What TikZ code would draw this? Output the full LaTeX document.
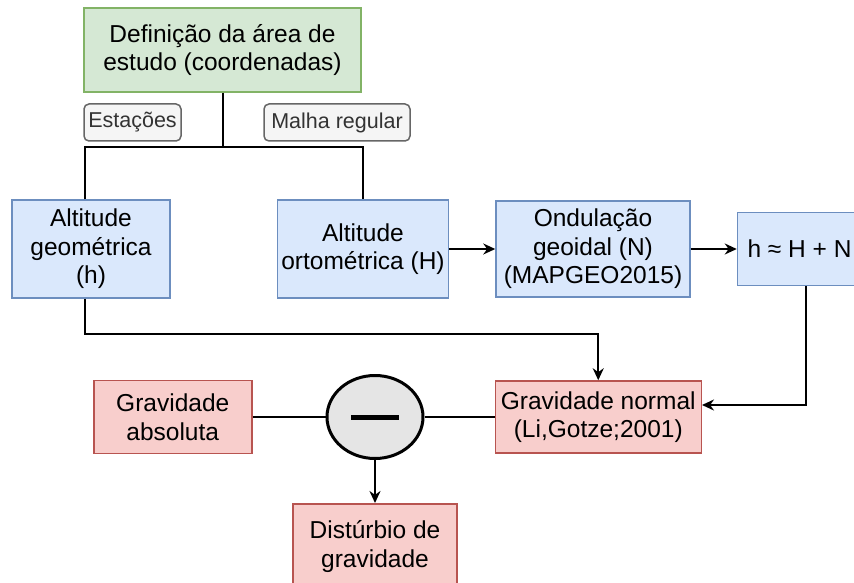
\documentclass[tikz,border=0pt]{standalone}
\usepackage{fontspec}
\setmainfont{Liberation Sans}
\usepackage{xcolor}
\usepackage{tikz}
\usetikzlibrary{positioning,shapes.geometric,arrows.meta}

\definecolor{greenfill}{HTML}{D5E8D4}
\definecolor{greenline}{HTML}{82B366}
\definecolor{bluefill}{HTML}{DAE8FC}
\definecolor{blueline}{HTML}{6C8EBF}
\definecolor{redfill}{HTML}{F8CECC}
\definecolor{redline}{HTML}{B85450}
\definecolor{tagfill}{HTML}{F5F5F5}
\definecolor{tagline}{HTML}{666666}

\begin{document}
\begin{tikzpicture}[
  x=1pt, y=-1pt,
  font=\fontsize{24.5}{28.5}\selectfont,
  box/.style={rectangle, align=center, inner sep=0pt, line width=1.5pt},
  greenbox/.style={box, draw=greenline, fill=greenfill},
  bluebox/.style={box, draw=blueline, fill=bluefill},
  redbox/.style={box, draw=redline, fill=redfill},
  tagbox/.style={rectangle, rounded corners=5pt, draw=tagline, fill=tagfill, line width=1.5pt,
                 text=black!80, inner sep=0pt, font=\fontsize{21.5}{25}\selectfont},
  minusnode/.style={ellipse, draw=black, fill=black!10, line width=3pt, inner sep=0pt,
                    minimum width=96pt, minimum height=83pt},
  link/.style={draw, line width=2pt},   % plain connector
  arrow/.style={link, ->},              % connector with a tip
  >={Stealth[length=12pt,width=11pt]}
]
  \useasboundingbox (0,0) rectangle (854,583);

  \node[greenbox, minimum width=277pt, minimum height=84pt] (area) at (222.5,50) {Definição da área de\\estudo (coordenadas)};
  \node[tagbox, minimum width=97pt, minimum height=37pt] (est) at (132.5,122.5) {Estações};
  \node[tagbox, minimum width=146pt, minimum height=37pt] (malha) at (337,122.5) {Malha regular};

  \node[bluebox, minimum width=158pt, minimum height=98pt] (geo) at (91,249) {Altitude\\geométrica\\(h)};
  \node[bluebox, minimum width=171pt, minimum height=98pt, right=106pt of geo] (orto) {Altitude\\ortométrica (H)};
  \node[bluebox, minimum width=194pt, minimum height=96pt, right=46pt of orto] (ond) {Ondulação\\geoidal (N)\\(MAPGEO2015)};
  \node[bluebox, minimum width=124pt, minimum height=73pt, right=46pt of ond] (soma) {h ≈ H + N};

  \node[minusnode] (sub) at (375,417) {\rule{48pt}{5pt}};
  \node[redbox, minimum width=158pt, minimum height=73pt, left=73pt of sub] (gabs) {Gravidade\\absoluta};
  \node[redbox, minimum width=206pt, minimum height=72pt, right=70pt of sub] (gnorm) {Gravidade normal\\(Li,Gotze;2001)};
  \node[redbox, minimum width=164pt, minimum height=86pt, below=43pt of sub] (dist) {Distúrbio de\\gravidade};

  \coordinate (fork) at ([yshift=-54pt]area.south);
  \draw[link] (area.south) -- (fork);
  \draw[link] ([xshift=-6pt]geo.north) |- (fork) -| (orto.north);

  \draw[arrow] (orto) -- (ond);
  \draw[arrow] (ond) -- (soma);
  \draw[arrow] ([xshift=6pt]soma.south) |- ([yshift=12pt]gnorm.east);
  \draw[arrow] ([xshift=-6pt]geo.south) -- ++(0,35) -| (gnorm.north);

  \draw[link] (gabs) -- (sub);
  \draw[link] (sub) -- (gnorm);
  \draw[arrow] (sub) -- (dist);
\end{tikzpicture}
\end{document}
